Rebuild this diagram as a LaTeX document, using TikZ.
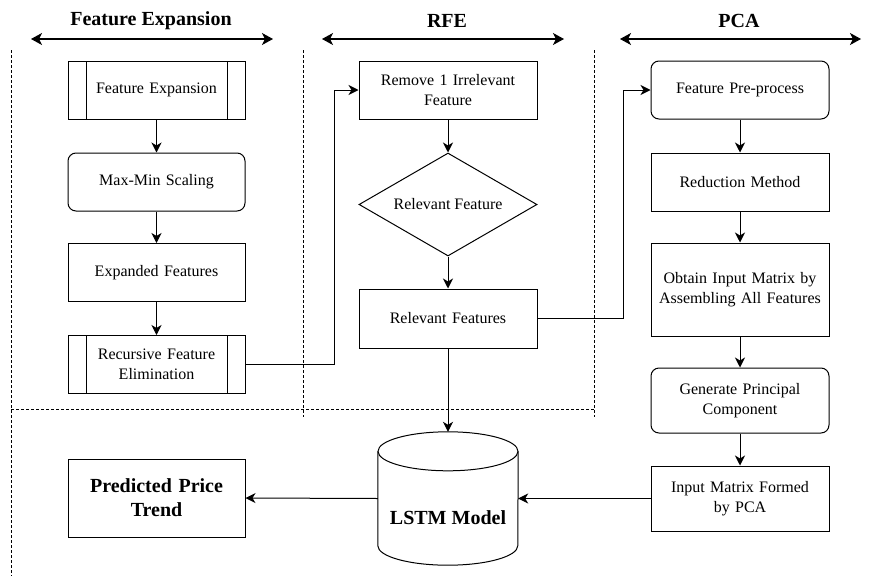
\documentclass[tikz,border=0pt]{standalone}
\usepackage{fontspec}
\setmainfont{Liberation Serif}
\usetikzlibrary{arrows.meta,positioning,shapes.geometric}

\begin{document}
\begin{tikzpicture}[
        x=1pt, y=-1pt,
        font=\fontsize{16}{19.5}\selectfont,
        block/.style={
            draw,
            line width=1pt,
            align=center,
            text width=170pt,
            minimum width=177pt,
            minimum height=58pt,
            inner sep=2pt
        },
        roundblock/.style={block, rounded corners=8pt},
        subproc/.style={
            block,
            path picture={
                \draw[line width=1pt] ([xshift=18pt]path picture bounding box.north west) -- ([xshift=18pt]path picture bounding box.south west);
                \draw[line width=1pt] ([xshift=-18pt]path picture bounding box.north east) -- ([xshift=-18pt]path picture bounding box.south east);
            }
        },
        decision/.style={
            draw,
            diamond,
            line width=1pt,
            aspect=1.73,
            inner sep=0pt,
            minimum width=178pt,
            minimum height=103pt
        },
        store/.style={
            rectangle,
            inner sep=0pt,
            minimum width=140pt,
            minimum height=133pt
        },
        heading/.style={font=\fontsize{20}{24}\selectfont\bfseries},
        arrow/.style={-{Stealth[length=10pt,width=10pt,inset=3pt]}, line width=1pt},
        span/.style={{Stealth[length=11pt,width=12pt,inset=3pt]}-{Stealth[length=11pt,width=12pt,inset=3pt]}, line width=1.1pt},
        zone/.style={dash pattern=on 3pt off 2pt, line width=0.7pt}
    ]
        \useasboundingbox (0,0) rectangle (876,576);

        % section frames
        \draw[zone] (11,50) -- (11,576);
        \draw[zone] (303,50) -- (303,417);
        \draw[zone] (594,50) -- (594,417);
        \draw[zone] (11,409) -- (594,409);

        % headings
        \node[heading] (hfe) at (151,21) {Feature Expansion};
        \node[heading] (hrfe) at (447,21) {RFE};
        \node[heading] (hpca) at (739,21) {PCA};

        \coordinate (fel) at (31,39);  \coordinate (fer) at (273,39);
        \coordinate (rfel) at (322,39); \coordinate (rfer) at (564,39);
        \coordinate (pcal) at (620,39); \coordinate (pcar) at (861,39);
        \foreach \a/\b in {fel/fer,rfel/rfer,pcal/pcar} {
            \draw[span] (\a) -- (\b);
        }

        % feature expansion column
        \node[subproc] (fe) at (156.5,90) {Feature Expansion};
        \node[roundblock] (mms) at (156.5,182) {Max-Min Scaling};
        \node[block] (ef) at (156.5,272.5) {Expanded Features};
        \node[subproc] (rfe) at (156.5,364.5) {Recursive Feature\\Elimination};
        \node[block, minimum height=78pt, font=\fontsize{20}{24}\selectfont\bfseries] (ppt) at (156.5,498) {Predicted Price\\Trend};

        % RFE column
        \node[block, minimum width=178pt] (rem) at (448,90) {Remove 1 Irrelevant\\Feature};
        \node[decision] (rel) at (448,204.5) {Relevant Feature};
        \node[block, minimum width=178pt, minimum height=59pt] (relf) at (448,318.5) {Relevant Features};
        \node[store, label={[yshift=-19pt, font=\fontsize{20}{24}\selectfont\bfseries]center:LSTM Model}] (lstm) at (448,498.5) {};
        % cylinder outline
        \draw[line width=1pt] ([yshift=-19.5pt]lstm.north west) -- ([yshift=19.5pt]lstm.south west)
            arc[start angle=180, end angle=360, x radius=70pt, y radius=19.5pt]
            -- ([yshift=-19.5pt]lstm.north east);
        \draw[line width=1pt] ([yshift=-19.5pt]lstm.north) ellipse [x radius=70pt, y radius=19.5pt];

        % PCA column
        \node[roundblock, minimum width=178pt] (fpp) at (740,90) {Feature Pre-process};
        \node[block, minimum width=178pt] (rm) at (740,182) {Reduction Method};
        \node[block, minimum width=178pt, minimum height=93pt] (oim) at (740,289.5) {Obtain Input Matrix by\\Assembling All Features};
        \node[roundblock, minimum width=178pt, minimum height=65pt] (gpc) at (740,400.5) {Generate Principal\\Component};
        \node[block, minimum width=178pt, minimum height=65pt] (imf) at (740,498.5) {Input Matrix Formed\\by PCA};

        \foreach \source/\target in {fe/mms,mms/ef,ef/rfe,rem/rel,rel/relf,relf/lstm,fpp/rm,rm/oim,oim/gpc,gpc/imf} {
            \draw[arrow] (\source.south) -- (\target.north);
        }

        \coordinate (j1) at (334,364.5);
        \coordinate (j2) at (623,318.5);
        \draw[arrow] (rfe.east) -- (j1) |- (rem.west);
        \draw[arrow] (relf.east) -- (j2) |- (fpp.west);
        \draw[arrow] (imf.west) -- (lstm.east);
        \draw[arrow] (lstm.west) -- (ppt.east);
    \end{tikzpicture}
\end{document}
